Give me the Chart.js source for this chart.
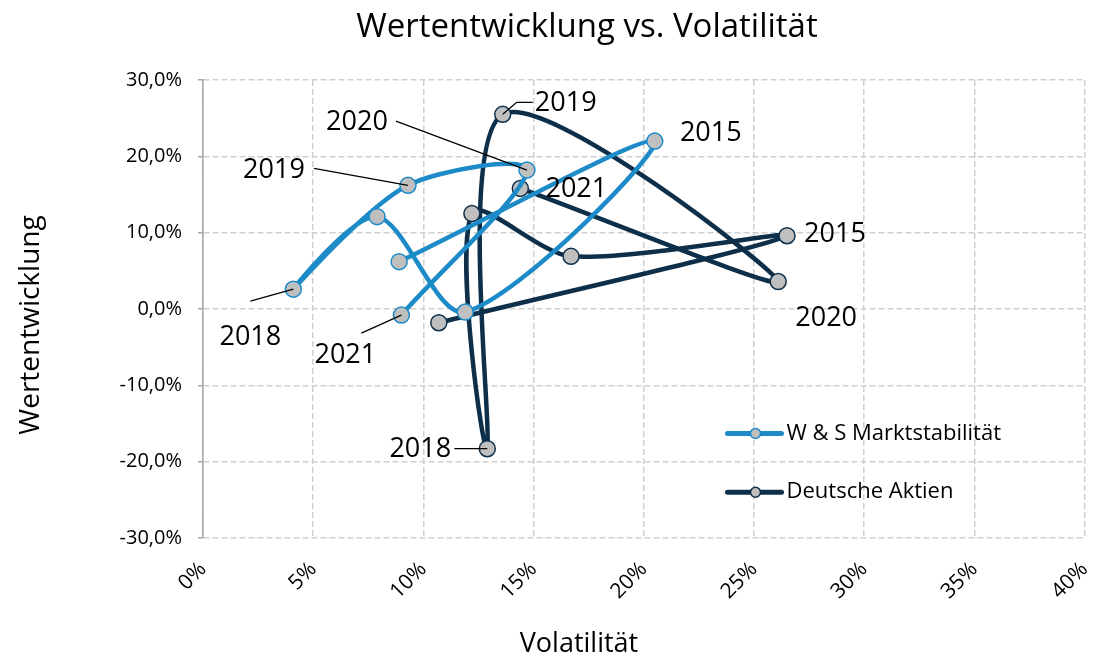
<!DOCTYPE html>
<html><head><meta charset="utf-8">
<script src="https://cdn.jsdelivr.net/npm/chart.js@4/dist/chart.umd.min.js"></script>
<style>html,body{margin:0;padding:0;background:#fff}#wrap{width:1094px;height:658px}</style>
</head><body><div id="wrap"><canvas id="c" width="1094" height="658"></canvas></div>
<script>
const years = ['2014','2015','2016','2017','2018','2019','2020','2021'];
const wsVol = [8.9, 20.5, 11.9, 7.9, 4.1, 9.3, 14.7, 9.0];
const wsRet = [6.2, 22.0, -0.4, 12.1, 2.6, 16.2, 18.2, -0.8];
const daVol = [10.7, 26.5, 16.7, 12.2, 12.9, 13.6, 26.1, 14.4];
const daRet = [-1.8, 9.6, 6.9, 12.5, -18.3, 25.5, 3.6, 15.8];
const labeledYears = ['2015','2018','2019','2020','2021'];
const xTicks = [0,5,10,15,20,25,30,35,40];
const yTicks = [-30,-20,-10,0,10,20,30];
const chartTitle = 'Wertentwicklung vs. Volatilität';
const xTitle = 'Volatilität';
const yTitle = 'Wertentwicklung';

const FONT = "'Open Sans', 'Noto Sans', sans-serif";
const wsColor = '#1E8BC9';
const daColor = '#0E2F4A';
const gridColor = '#D0D0D0';

// label placement (pixel offsets from point, and leader line start offsets)
const labelPlacement = {
  0: { '2015': {dx:56, dy:-8}, '2018': {dx:-43, dy:48, lx:-43, ly:12}, '2019': {dx:-134, dy:-15, lx:-94, ly:-17},
       '2020': {dx:-170, dy:-48, lx:-131, ly:-49}, '2021': {dx:-56, dy:40, lx:-40, ly:18} },
  1: { '2015': {dx:48, dy:-1}, '2018': {dx:-67, dy:1, lx:-33, ly:0}, '2019': {dx:63, dy:-11, lx:30, ly:-12, mx:14, my:-12},
       '2020': {dx:48, dy:37}, '2021': {dx:56, dy:1} }
};

const dataLabels = {
  id: 'dataLabels',
  afterDatasetsDraw(chart) {
    const ctx = chart.ctx;
    ctx.save();
    ctx.font = "27px " + FONT;
    ctx.fillStyle = '#000';
    ctx.textAlign = 'center';
    ctx.textBaseline = 'middle';
    chart.data.datasets.forEach((ds, di) => {
      const meta = chart.getDatasetMeta(di);
      years.forEach((y, i) => {
        if (!labeledYears.includes(y)) return;
        const p = meta.data[i];
        const pl = labelPlacement[di][y];
        if (pl.lx !== undefined) {
          ctx.strokeStyle = '#000';
          ctx.lineWidth = 1.3;
          ctx.beginPath();
          ctx.moveTo(p.x + pl.lx, p.y + pl.ly);
          if (pl.mx !== undefined) ctx.lineTo(p.x + pl.mx, p.y + pl.my);
          ctx.lineTo(p.x, p.y);
          ctx.stroke();
        }
        ctx.fillText(y, p.x + pl.dx, p.y + pl.dy);
      });
    });
    ctx.restore();
  }
};

const legendInside = {
  id: 'legendInside',
  afterDraw(chart) {
    const ctx = chart.ctx;
    const xs = chart.scales.x, ys = chart.scales.y;
    ctx.save();
    chart.data.datasets.forEach((ds, di) => {
      const x0 = xs.getPixelForValue(23.8);
      const y0 = ys.getPixelForValue(-16.3 - di * 7.7);
      ctx.strokeStyle = ds.borderColor;
      ctx.lineWidth = 5;
      ctx.lineCap = 'round';
      ctx.beginPath(); ctx.moveTo(x0, y0); ctx.lineTo(x0 + 54, y0); ctx.stroke();
      ctx.fillStyle = '#BFBFBF';
      ctx.lineWidth = 1.5;
      ctx.beginPath(); ctx.arc(x0 + 28, y0, 5, 0, Math.PI * 2); ctx.fill(); ctx.stroke();
      ctx.fillStyle = '#000';
      ctx.font = "22px " + FONT;
      ctx.textAlign = 'left'; ctx.textBaseline = 'middle';
      ctx.fillText(ds.label, x0 + 59, y0);
    });
    ctx.restore();
  }
};

const titles = {
  id: 'titles',
  afterDraw(chart) {
    const ctx = chart.ctx;
    const ca = chart.chartArea;
    ctx.save();
    ctx.fillStyle = '#000';
    ctx.textAlign = 'center'; ctx.textBaseline = 'middle';
    ctx.font = "33px " + FONT;
    ctx.fillText(chartTitle, ca.left + 384, 28);
    ctx.font = "27px " + FONT;
    ctx.fillText(xTitle, ca.left + 376, 644);
    ctx.translate(31, ca.top + 245);
    ctx.rotate(-Math.PI / 2);
    ctx.font = "28px " + FONT;
    ctx.fillText(yTitle, 0, 0);
    ctx.restore();
  }
};

const mk = (vx, vy) => vx.map((v, i) => ({x: v, y: vy[i]}));

new Chart(document.getElementById('c'), {
  type: 'scatter',
  data: {
    datasets: [
      { label: 'W & S Marktstabilität', data: mk(wsVol, wsRet), showLine: true, tension: 0.3,
        borderColor: wsColor, borderWidth: 4.5, pointRadius: 8, pointBorderWidth: 1.5,
        pointBackgroundColor: '#BFBFBF', pointBorderColor: wsColor },
      { label: 'Deutsche Aktien', data: mk(daVol, daRet), showLine: true, tension: 0.3,
        borderColor: daColor, borderWidth: 4.5, pointRadius: 8, pointBorderWidth: 1.5,
        pointBackgroundColor: '#BFBFBF', pointBorderColor: daColor }
    ]
  },
  options: {
    responsive: false, animation: false,
    layout: { padding: { left: 12, right: 7, top: 80, bottom: 0 } },
    plugins: {
      legend: { display: false },
      tooltip: { enabled: false },
      title: { display: false }
    },
    scales: {
      x: {
        type: 'linear', min: 0, max: 40,
        afterBuildTicks: (s) => { s.ticks = xTicks.map(v => ({value: v})); },
        afterFit: (s) => { s.height = 120; s.paddingLeft = 0; s.paddingRight = 0; },
        ticks: { callback: v => v + '%', minRotation: 45, maxRotation: 45, color: '#000',
          font: { family: FONT, size: 21 }, padding: 19 },
        grid: { color: gridColor, lineWidth: 1.5, tickLength: 0 },
        border: { display: false, dash: [6, 3] },
        title: { display: false }
      },
      y: {
        type: 'linear', min: -30, max: 30,
        afterBuildTicks: (s) => { s.ticks = yTicks.map(v => ({value: v})); },
        afterFit: (s) => { s.width = 191; s.paddingTop = 0; s.paddingBottom = 0; },
        ticks: { callback: v => v.toFixed(1).replace('.', ',') + '%', color: '#000',
          font: { family: FONT, size: 20 }, padding: 16 },
        grid: { color: gridColor, lineWidth: 1.5, tickLength: 5, tickColor: '#A6A6A6' },
        border: { display: true, color: '#A6A6A6', width: 1.5, dash: [6, 3] },
        title: { display: false }
      }
    }
  },
  plugins: [dataLabels, legendInside, titles]
});
</script></body></html>
